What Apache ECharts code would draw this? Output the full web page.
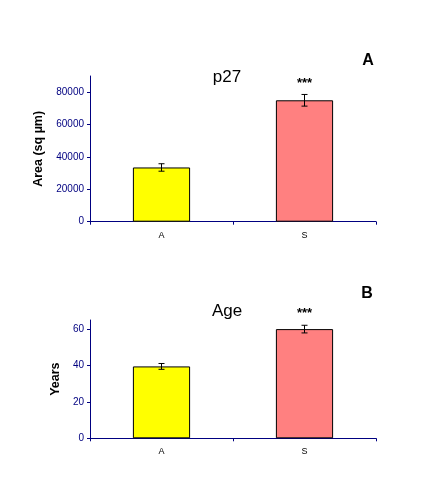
<!DOCTYPE html>
<html><head><meta charset="utf-8">
<script src="https://cdn.jsdelivr.net/npm/echarts@6/dist/echarts.min.js"></script>
<style>html,body{margin:0;padding:0;background:#fff}#c{width:432px;height:504px}</style>
</head><body><div id="c"></div>
<script>
const categories = ['A', 'S'];
const areaValues = [33500, 75000];
const areaErrors = [2300, 3600];
const ageValues = [39.5, 60];
const ageErrors = [1.6, 2.1];
const significance = ['', '***'];
const areaTicks = [0, 20000, 40000, 60000, 80000];
const ageTicks = [0, 20, 40, 60];
const barColors = ['#FFFF00', '#FF8080'];

const font = 'Liberation Sans, Arial, sans-serif';
const axisColor = '#000080';

function errSeries(xi, yi, vals, errs) {
  return {
    type: 'custom', xAxisIndex: xi, yAxisIndex: yi, z: 10,
    data: vals.map((v, i) => [i, v, errs[i]]),
    renderItem: function (params, api) {
      const i = api.value(0), v = api.value(1), e = api.value(2);
      const hi = api.coord([i, v + e]);
      const lo = api.coord([i, v - e]);
      const w = 3;
      const st = { stroke: '#000', lineWidth: 1 };
      const children = [
        { type: 'line', shape: { x1: hi[0], y1: hi[1], x2: lo[0], y2: lo[1] }, style: st },
        { type: 'line', shape: { x1: hi[0] - w, y1: hi[1], x2: hi[0] + w, y2: hi[1] }, style: st },
        { type: 'line', shape: { x1: lo[0] - w, y1: lo[1], x2: lo[0] + w, y2: lo[1] }, style: st }
      ];
      if (significance[i]) {
        children.push({ type: 'text', style: { x: hi[0], y: hi[1] - 5, text: significance[i], textAlign: 'center', textVerticalAlign: 'bottom', font: 'bold 13px ' + font, fill: '#000' } });
      }
      return { type: 'group', children: children };
    }
  };
}

function xAx(gi) {
  return {
    type: 'category', gridIndex: gi, data: categories,
    axisLine: { lineStyle: { color: axisColor, width: 1 } },
    axisTick: { show: true, length: 3, inside: false, lineStyle: { color: axisColor } },
    axisLabel: { color: '#000', fontFamily: font, fontSize: 9, margin: 9 }
  };
}
function yAx(gi, max, ticks, name, gap) {
  return {
    type: 'value', gridIndex: gi, min: 0, max: max,
    name: name, nameLocation: 'middle', nameGap: gap,
    nameTextStyle: { fontFamily: font, fontSize: 12.5, fontWeight: 'bold', color: '#000' },
    splitLine: { show: false },
    axisLine: { show: true, lineStyle: { color: axisColor, width: 1 } },
    axisTick: { show: true, length: 3, customValues: ticks, lineStyle: { color: axisColor } },
    axisLabel: { customValues: ticks, formatter: v => String(v), color: '#000080', fontFamily: font, fontSize: 10, margin: 6 }
  };
}

const chart = echarts.init(document.getElementById('c'), null, { renderer: 'canvas' });
chart.setOption({
  animation: false,
  backgroundColor: '#fff',
  title: [
    { text: 'p27', left: 222, top: 64, textAlign: 'center', textStyle: { fontFamily: font, fontSize: 17, fontWeight: 'normal', color: '#000' } },
    { text: 'A', left: 363, top: 48, textAlign: 'center', textStyle: { fontFamily: font, fontSize: 16, fontWeight: 'bold', color: '#000' } },
    { text: 'Age', left: 222, top: 298, textAlign: 'center', textStyle: { fontFamily: font, fontSize: 17, fontWeight: 'normal', color: '#000' } },
    { text: 'B', left: 362, top: 281, textAlign: 'center', textStyle: { fontFamily: font, fontSize: 16, fontWeight: 'bold', color: '#000' } }
  ],
  grid: [
    { left: 90, top: 76, width: 286, height: 145.7 },
    { left: 90, top: 320, width: 286, height: 118.3 }
  ],
  xAxis: [xAx(0), xAx(1)],
  yAxis: [yAx(0, 90000, areaTicks, 'Area (sq µm)', 41), yAx(1, 65, ageTicks, 'Years', 26)],
  series: [
    { type: 'bar', xAxisIndex: 0, yAxisIndex: 0, barWidth: '40%',
      data: areaValues.map((v, i) => ({ value: v, itemStyle: { color: barColors[i], borderColor: '#000', borderWidth: 1 } })) },
    errSeries(0, 0, areaValues, areaErrors),
    { type: 'bar', xAxisIndex: 1, yAxisIndex: 1, barWidth: '40%',
      data: ageValues.map((v, i) => ({ value: v, itemStyle: { color: barColors[i], borderColor: '#000', borderWidth: 1 } })) },
    errSeries(1, 1, ageValues, ageErrors)
  ]
});
</script></body></html>
